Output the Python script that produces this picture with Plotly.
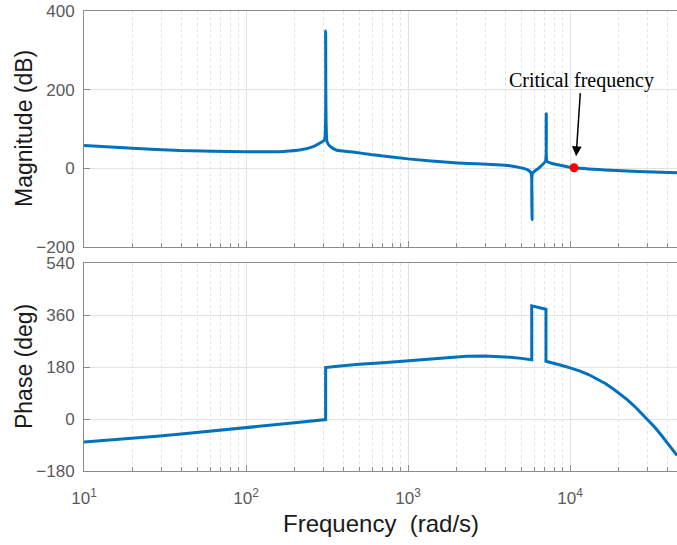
import math
import plotly.graph_objects as go

# ---- data ----
mag_freq = [10, 20, 39, 100, 171, 218, 262, 288, 305, 310, 316, 332, 363, 466, 589,
            1000, 1930, 3930, 4750, 5480, 5750, 5830, 5860, 6470, 7050, 7130, 7200,
            7650, 9150, 10585, 16370, 26300, 45700]
mag_db = [58, 51, 45, 42, 43, 47, 56, 65, 72, 349, 68, 55, 46, 41, 35,
          24, 14, 8, 3, -4, -12, -130, -12, 2, 18, 139, 18,
          13, 6, 1.5, -4, -8, -11]

phase_freq = [10, 14.1, 20, 28.2, 39.8, 56.2, 79.4, 100, 141, 200, 310,
              310, 367, 500, 700, 906, 1200, 1445, 1800, 2300, 2990, 3500, 4270, 5000, 5660, 5800,
              5800, 7100,
              7100, 7800, 8810, 10000, 11530, 13000, 14500, 16500, 18500, 20500,
              22500, 25000, 27500, 30000, 33000, 36100, 40000, 43000, 45700]
phase_deg = [-80, -74, -67, -60, -52, -44, -36, -31, -22, -13, -2,
             178, 183, 190, 195, 200, 206, 210, 214, 217, 218, 217, 214, 210, 206, 205,
             392, 380,
             200, 195, 186, 177, 166, 154, 141, 123, 104, 85,
             67, 44, 21, 0, -26, -52, -83, -106, -126]

crit_freq = [10585]
crit_mag = [1.5]

mag_ticks = [-200, 0, 200, 400]
phase_ticks = [-180, 0, 180, 360, 540]
freq_ticks = [10, 100, 1000, 10000]
freq_tick_text = ["10<sup>1</sup>", "10<sup>2</sup>", "10<sup>3</sup>", "10<sup>4</sup>"]

LINE = "#0072BD"
GRID = "#e3e3e3"
MINOR = "#e3e3e3"
AX = "#8c8c8c"
TICKFONT = dict(family="Liberation Sans, Arial", size=17, color="#5a5a5a")
YTITLEFONT = dict(family="Liberation Sans, Arial", size=23, color="#1a1a1a")
XTITLEFONT = dict(family="Liberation Sans, Arial", size=24, color="#1a1a1a")

fig = go.Figure()
fig.add_trace(go.Scatter(x=mag_freq, y=mag_db, mode="lines",
                         line=dict(color=LINE, width=3, shape="spline", smoothing=0.4),
                         xaxis="x", yaxis="y", showlegend=False, hoverinfo="skip"))
fig.add_trace(go.Scatter(x=crit_freq, y=crit_mag, mode="markers",
                         marker=dict(color="#ff0000", size=9), xaxis="x", yaxis="y",
                         showlegend=False))
fig.add_trace(go.Scatter(x=phase_freq, y=phase_deg, mode="lines",
                         line=dict(color=LINE, width=3),
                         xaxis="x2", yaxis="y2", showlegend=False, hoverinfo="skip"))

xrange = [1, math.log10(45700)]
common_x = dict(type="log", range=xrange, showgrid=True, gridcolor=GRID, gridwidth=1,
                showline=True, linecolor=AX, linewidth=1, mirror=True,
                ticks="inside", ticklen=6, tickcolor=AX, automargin=False,
                tickvals=freq_ticks, ticktext=freq_tick_text, tickfont=TICKFONT,
                ticklabelstandoff=12,
                minor=dict(dtick="D1", ticks="inside", ticklen=4, tickcolor=AX,
                           showgrid=True, gridcolor=MINOR, griddash="dot"),
                zeroline=False)
common_y = dict(showgrid=True, gridcolor=GRID, gridwidth=1, showline=True, linecolor=AX,
                linewidth=1, mirror=True, ticks="inside", ticklen=6, tickcolor=AX,
                tickfont=TICKFONT, zeroline=False, automargin=False,
                ticklabelstandoff=5)

TOP = [0.487, 1]
BOT = [0, 0.452]

fig.update_layout(
    width=677, height=545, autosize=False,
    margin=dict(l=84, r=0, t=11, b=74, autoexpand=False),
    paper_bgcolor="white", plot_bgcolor="white",
    xaxis=dict(common_x, domain=[0, 1], anchor="y", showticklabels=False),
    yaxis=dict(common_y, domain=TOP, range=[-200, 400], tickvals=mag_ticks),
    xaxis2=dict(common_x, domain=[0, 1], anchor="y2"),
    yaxis2=dict(common_y, domain=BOT, range=[-180, 540], tickvals=phase_ticks),
    annotations=[
        dict(x=math.log10(10900), y=31, xref="x", yref="y",
             text="Critical frequency", showarrow=True, ax=5, ay=-76,
             arrowhead=2, arrowsize=1.3, arrowwidth=1.5, arrowcolor="black",
             font=dict(family="Liberation Serif, Times New Roman", size=20, color="black")),
        dict(x=0, y=sum(TOP) / 2, xref="paper", yref="paper", text="Magnitude (dB)",
             showarrow=False, textangle=-90, xanchor="center", yanchor="middle",
             xshift=-60, font=YTITLEFONT),
        dict(x=0, y=sum(BOT) / 2, xref="paper", yref="paper", text="Phase (deg)",
             showarrow=False, textangle=-90, xanchor="center", yanchor="middle",
             xshift=-60, font=YTITLEFONT),
        dict(x=0.5, y=0, xref="paper", yref="paper", text="Frequency  (rad/s)",
             showarrow=False, xanchor="center", yanchor="middle",
             yshift=-52, font=XTITLEFONT),
    ],
)

post = ("document.body.style.margin='0';document.body.style.overflow='hidden';"
        "var gd=document.getElementById('{plot_id}');"
        "gd.style.width='677px';gd.style.height='545px';"
        "Plotly.relayout(gd,{width:677,height:545});")

fig.write_html("out.html", post_script=post, config={"displayModeBar": False})
